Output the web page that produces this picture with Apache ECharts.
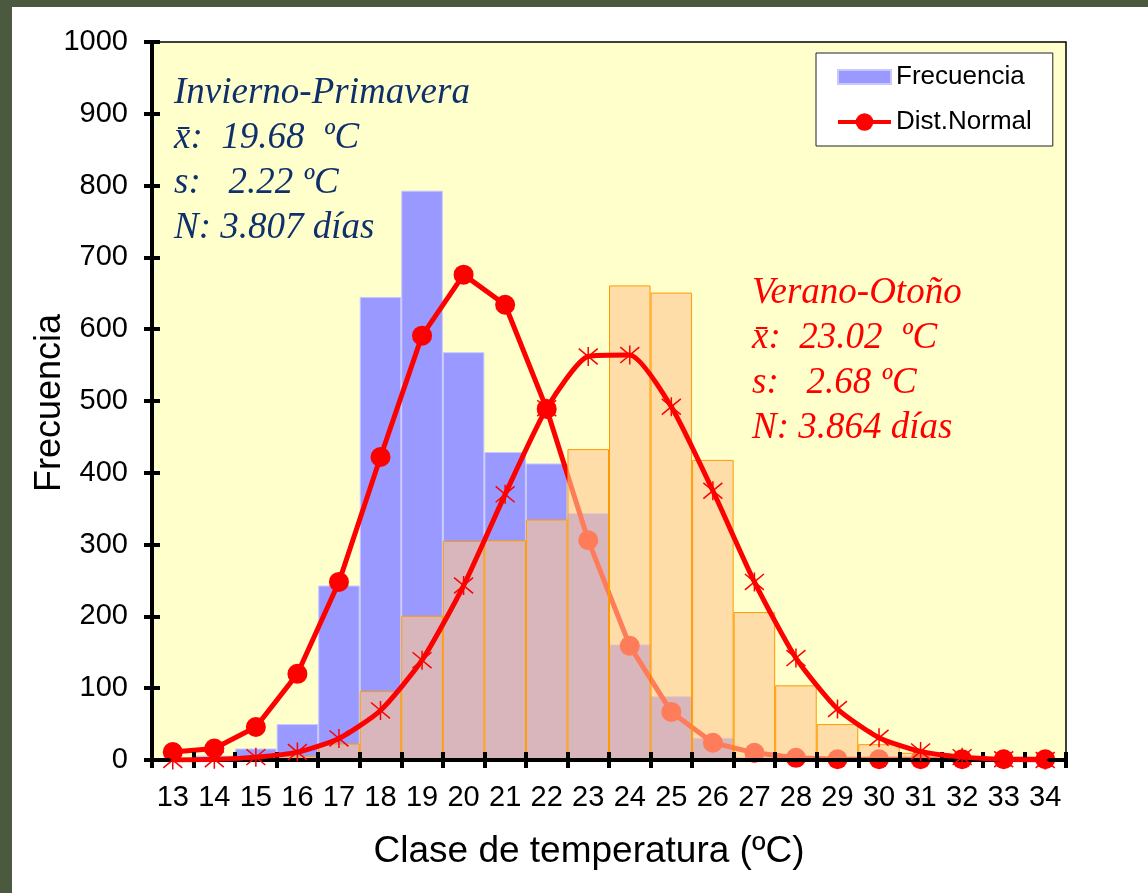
<!DOCTYPE html>
<html>
<head>
<meta charset="utf-8">
<script src="https://cdn.jsdelivr.net/npm/echarts@6/dist/echarts.min.js"></script>
<style>
  html, body { margin: 0; padding: 0; background: #fff; }
  #chart { width: 1148px; height: 893px; }
</style>
</head>
<body>
<div id="chart"></div>
<script>
// clases de temperatura (ºC)
const clases = ['13', '14', '15', '16', '17', '18', '19', '20', '21', '22', '23',
  '24', '25', '26', '27', '28', '29', '30', '31', '32', '33', '34'];

// Invierno-Primavera: frecuencia observada y distribución normal
const frecInvierno = [0, 6, 16, 50, 243, 645, 793, 568, 429, 413, 344,
  161, 89, 31, 4, 1, 0, 0, 0, 0, 0, 0];
const normalInvierno = [11, 16, 46, 120, 248, 422, 591, 676, 634, 489, 306,
  159, 67, 24, 10, 3, 1, 1, 1, 1, 1, 1];

// Verano-Otoño: frecuencia observada y distribución normal
const frecVerano = [0, 0, 1, 6, 23, 96, 201, 305, 306, 335, 433,
  661, 651, 418, 206, 104, 50, 22, 10, 3, 1, 0];
const normalVerano = [0, 1, 4, 11, 30, 69, 139, 243, 370, 490, 562,
  564, 492, 375, 248, 142, 71, 31, 12, 4, 1, 0];

const yTicks = { min: 0, max: 1000, interval: 100 };

const textoInvierno = ['Invierno-Primavera', 'x\u0304:  19.68  ºC', 's:   2.22 ºC', 'N: 3.807 días'];
const textoVerano = ['Verano-Otoño', 'x\u0304:  23.02  ºC', 's:   2.68 ºC', 'N: 3.864 días'];

const chart = echarts.init(document.getElementById('chart'));

// bloque de texto en cursiva (Times)
function bloque(lineas, x, y0, color) {
  return lineas.map((t, i) => ({
    type: 'text',
    x: x,
    y: y0 + i * 45,
    z: 20,
    style: {
      text: t,
      fill: color,
      font: 'italic 37px "Liberation Serif", "Times New Roman", serif',
      verticalAlign: 'top'
    }
  }));
}

const asterisco = 'path://M0,0L20,20M20,0L0,20M10,-2L10,22';
const sans = '"Liberation Sans", Arial, sans-serif';

const option = {
  animation: false,
  backgroundColor: '#ffffff',
  grid: {
    left: 152,
    right: 82,
    top: 42,
    bottom: 133,
    show: true,
    backgroundColor: '#FFFFCC',
    borderColor: '#000',
    borderWidth: 1.5
  },
  legend: {
    left: 816,
    top: 53,
    orient: 'vertical',
    padding: [11, 21, 11, 20],
    itemGap: 19,
    itemWidth: 53,
    itemHeight: 22,
    backgroundColor: '#fff',
    borderColor: '#222',
    borderWidth: 1,
    borderRadius: 0,
    textStyle: { fontFamily: sans, fontSize: 26, color: '#000' },
    data: [
      { name: 'Frecuencia', icon: 'path://M0,0L53,0L53,14L0,14Z' },
      { name: 'Dist.Normal', lineStyle: { width: 4 } }
    ]
  },
  xAxis: [
    {
      type: 'category',
      data: clases,
      boundaryGap: true,
      z: 5,
      axisLine: { lineStyle: { color: '#000', width: 4 } },
      axisTick: { show: true, inside: false, length: 8, interval: 0, lineStyle: { color: '#000', width: 4 } },
      axisLabel: {
        interval: 0,
        margin: 23,
        color: '#000',
        fontSize: 29,
        fontFamily: sans
      },
      splitLine: { show: false }
    },
    {
      type: 'category',
      data: clases,
      position: 'bottom',
      boundaryGap: true,
      z: 5,
      axisLine: { show: false },
      axisTick: { show: true, inside: true, length: 8, interval: 0, lineStyle: { color: '#000', width: 4 } },
      axisLabel: { show: false },
      splitLine: { show: false }
    }
  ],
  yAxis: [
    {
      type: 'value',
      min: yTicks.min,
      max: yTicks.max,
      interval: yTicks.interval,
      z: 5,
      axisLine: { show: true, lineStyle: { color: '#000', width: 4 } },
      axisTick: { show: true, inside: false, length: 8, lineStyle: { color: '#000', width: 4 } },
      axisLabel: {
        margin: 24,
        color: '#000',
        fontSize: 29,
        fontFamily: sans,
        formatter: v => String(v)
      },
      splitLine: { show: false }
    },
    {
      type: 'value',
      position: 'left',
      min: yTicks.min,
      max: yTicks.max,
      interval: yTicks.interval,
      z: 5,
      axisLine: { show: false },
      axisTick: { show: true, inside: true, length: 8, lineStyle: { color: '#000', width: 4 } },
      axisLabel: { show: false },
      splitLine: { show: false }
    }
  ],
  series: [
    {
      name: 'Frecuencia',
      type: 'bar',
      data: frecInvierno,
      z: 2,
      barGap: '-100%',
      barCategoryGap: 0,
      itemStyle: { color: '#9999FF', borderColor: '#C8C8FF', borderWidth: 1 }
    },
    {
      name: 'Dist.Normal',
      type: 'line',
      data: normalInvierno,
      z: 3,
      symbol: 'circle',
      symbolSize: 20,
      lineStyle: { color: '#FF0000', width: 5 },
      itemStyle: { color: '#FF0000' }
    },
    {
      name: 'Frecuencia Verano-Otoño',
      type: 'bar',
      data: frecVerano,
      z: 4,
      barGap: '-100%',
      barCategoryGap: 0,
      itemStyle: { color: 'rgba(255, 200, 146, 0.62)', borderColor: '#FF9900', borderWidth: 1 }
    },
    {
      name: 'Dist.Normal Verano-Otoño',
      type: 'line',
      data: normalVerano,
      z: 6,
      smooth: 0.2,
      symbol: asterisco,
      symbolSize: 19,
      lineStyle: { color: '#FF0000', width: 5 },
      itemStyle: { color: 'transparent', borderColor: '#FF0000', borderWidth: 1.5 }
    }
  ],
  graphic: [
    { type: 'rect', x: 0, y: 0, z: 0, shape: { width: 12, height: 893 }, style: { fill: '#4B5A3E' } },
    { type: 'rect', x: 0, y: 0, z: 0, shape: { width: 1148, height: 7 }, style: { fill: '#4B5A3E' } },
    {
      type: 'text',
      x: 50,
      y: 403,
      rotation: Math.PI / 2,
      z: 20,
      style: {
        text: 'Frecuencia',
        fill: '#000',
        font: '36px ' + sans,
        align: 'center',
        verticalAlign: 'middle'
      }
    },
    {
      type: 'text',
      x: 589,
      y: 852,
      z: 20,
      style: {
        text: 'Clase de temperatura (ºC)',
        fill: '#000',
        font: '37px ' + sans,
        align: 'center',
        verticalAlign: 'middle'
      }
    }
  ].concat(bloque(textoInvierno, 174, 75, '#10306C'), bloque(textoVerano, 752, 275, '#FF0000'))
};

chart.setOption(option);
</script>
</body>
</html>
